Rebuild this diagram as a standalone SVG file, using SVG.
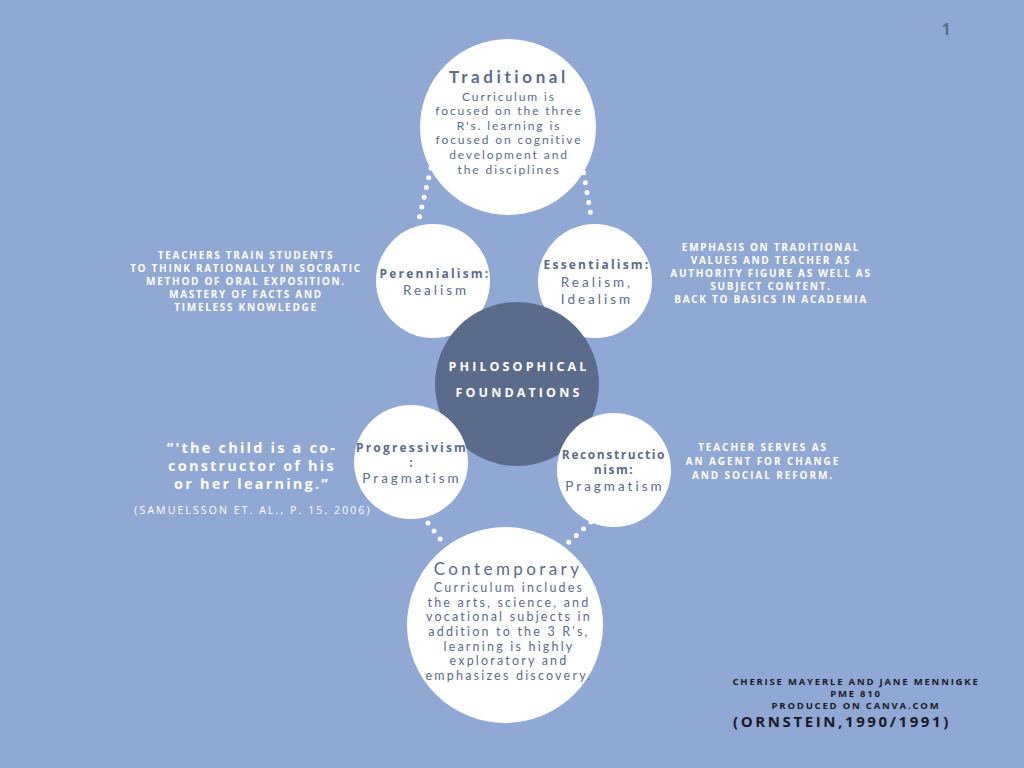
<svg xmlns="http://www.w3.org/2000/svg" width="1024" height="768" viewBox="0 0 1024 768">
<style>
.bg{fill:#8fa8d4}
.wc{fill:#ffffff}
.dk{fill:#5a6b8c}
.ttl{font-family:"Lato","Open Sans",sans-serif;font-weight:bold;fill:#5a6b8c;text-anchor:middle}
.ttn{font-family:"Lato","Open Sans",sans-serif;font-weight:normal;fill:#5a6b8c;text-anchor:middle}
.bd{font-family:"Lato","Open Sans",sans-serif;fill:#5a6b8c;text-anchor:middle;font-size:12px;letter-spacing:1.9px}
.sm{font-family:"Lato","Open Sans",sans-serif;fill:#5a6b8c;text-anchor:middle;font-size:13.5px;letter-spacing:3px}
.cb{font-family:"Lato","Open Sans",sans-serif;fill:#5a6b8c;text-anchor:middle;font-size:12.5px;letter-spacing:2.2px}
.lb{font-family:"Open Sans","Lato",sans-serif;font-weight:bold;fill:#5a6b8c;text-anchor:middle;font-size:12px;letter-spacing:2.2px}
.lb2{font-family:"Open Sans","Lato",sans-serif;font-weight:bold;fill:#5a6b8c;text-anchor:middle;font-size:12px;letter-spacing:1.6px}
.cap{font-family:"Open Sans","Lato",sans-serif;font-weight:bold;fill:#ffffff;text-anchor:middle;font-size:10px;letter-spacing:1.7px}
.cap2{font-family:"Open Sans","Lato",sans-serif;font-weight:bold;fill:#ffffff;text-anchor:middle;font-size:10px;letter-spacing:1.9px}
.dots{fill:none;stroke:#ffffff;stroke-width:5;stroke-linecap:round;stroke-dasharray:0 10}
.blk{font-family:"Open Sans","Lato",sans-serif;font-weight:bold;fill:#1a1a24;text-anchor:middle}
</style>
<rect class="bg" x="0" y="0" width="1024" height="768"/>
<g id="connectors">
<path class="dots" d="M431,168 L419,219"/>
<path class="dots" d="M582,163 L592,222"/>
<path class="dots" d="M428,523 L441,540"/>
<path class="dots" d="M591,522 L568,543"/>
</g>
<g id="traditional">
<circle class="wc" cx="508" cy="127" r="88"/>
<text class="ttl" x="509" y="83" font-size="17" letter-spacing="3.6">Traditional</text>
<text class="bd" x="509" y="101">Curriculum is</text>
<text class="bd" x="509" y="115">focused on the three</text>
<text class="bd" x="509" y="130">R's. learning is</text>
<text class="bd" x="509" y="144">focused on cognitive</text>
<text class="bd" x="509" y="159">development and</text>
<text class="bd" x="509" y="174">the disciplines</text>
</g>
<g id="perennialism">
<circle class="wc" cx="433" cy="281" r="57"/>
<text class="lb" x="435" y="278">Perennialism:</text>
<text class="sm" x="436" y="295">Realism</text>
</g>
<g id="essentialism">
<circle class="wc" cx="595" cy="281" r="57"/>
<text class="lb" x="597" y="269">Essentialism:</text>
<text class="sm" x="597" y="287">Realism,</text>
<text class="sm" x="597" y="304">Idealism</text>
</g>
<g id="foundations">
<circle class="dk" cx="517" cy="384" r="82"/>
<text x="519" y="371" font-family="Open Sans, Lato, sans-serif" font-weight="bold" font-size="12.5" letter-spacing="3.1" fill="#ffffff" text-anchor="middle">PHILOSOPHICAL</text>
<text x="519" y="397" font-family="Open Sans, Lato, sans-serif" font-weight="bold" font-size="12.5" letter-spacing="3.1" fill="#ffffff" text-anchor="middle">FOUNDATIONS</text>
</g>
<g id="progressivism">
<circle class="wc" cx="411" cy="462" r="57"/>
<text class="lb" x="412" y="452">Progressivism</text>
<text class="lb" x="412" y="467">:</text>
<text class="sm" x="412" y="483">Pragmatism</text>
</g>
<g id="reconstructionism">
<circle class="wc" cx="614" cy="470" r="57"/>
<text class="lb2" x="614" y="459">Reconstructio</text>
<text class="lb2" x="614" y="474">nism:</text>
<text class="sm" x="615" y="491">Pragmatism</text>
</g>
<g id="contemporary">
<circle class="wc" cx="505" cy="625" r="98"/>
<text class="ttn" x="508" y="575" font-size="17" letter-spacing="3.4">Contemporary</text>
<text class="cb" x="509" y="592">Curriculum includes</text>
<text class="cb" x="509" y="607">the arts, science, and</text>
<text class="cb" x="509" y="621">vocational subjects in</text>
<text class="cb" x="509" y="636">addition to the 3 R's,</text>
<text class="cb" x="509" y="651">learning is highly</text>
<text class="cb" x="509" y="665">exploratory and</text>
<text class="cb" x="509" y="680">emphasizes discovery.</text>
</g>
<g id="perennialism-note">
<text class="cap" x="246" y="259">TEACHERS TRAIN STUDENTS</text>
<text class="cap" x="246" y="272">TO THINK RATIONALLY IN SOCRATIC</text>
<text class="cap" x="246" y="285">METHOD OF ORAL EXPOSITION.</text>
<text class="cap" x="246" y="298">MASTERY OF FACTS AND</text>
<text class="cap" x="246" y="311">TIMELESS KNOWLEDGE</text>
</g>
<g id="essentialism-note">
<text class="cap" x="771" y="251">EMPHASIS ON TRADITIONAL</text>
<text class="cap" x="771" y="264">VALUES AND TEACHER AS</text>
<text class="cap" x="771" y="277">AUTHORITY FIGURE AS WELL AS</text>
<text class="cap" x="771" y="290">SUBJECT CONTENT.</text>
<text class="cap" x="771" y="303">BACK TO BASICS IN ACADEMIA</text>
</g>
<g id="progressivism-note">
<text x="252" y="453" font-family="Open Sans, Lato, sans-serif" font-weight="bold" font-size="14.5" letter-spacing="2.2" fill="#ffffff" text-anchor="middle">“'the child is a co-</text>
<text x="252" y="471" font-family="Open Sans, Lato, sans-serif" font-weight="bold" font-size="14.5" letter-spacing="2.2" fill="#ffffff" text-anchor="middle">constructor of his</text>
<text x="252" y="489" font-family="Open Sans, Lato, sans-serif" font-weight="bold" font-size="14.5" letter-spacing="2.2" fill="#ffffff" text-anchor="middle">or her learning.”</text>
<text x="253" y="514" font-family="Open Sans, Lato, sans-serif" font-size="10.5" letter-spacing="2.1" fill="#ffffff" text-anchor="middle">(SAMUELSSON ET. AL., P. 15, 2006)</text>
</g>
<g id="reconstructionism-note">
<text class="cap2" x="763" y="451">TEACHER SERVES AS</text>
<text class="cap2" x="763" y="465">AN AGENT FOR CHANGE</text>
<text class="cap2" x="763" y="479">AND SOCIAL REFORM.</text>
</g>
<g id="credits">
<text class="blk" x="856" y="685" font-size="9.5" letter-spacing="1.8">CHERISE MAYERLE AND JANE MENNIGKE</text>
<text class="blk" x="856" y="697" font-size="9.5" letter-spacing="1.8">PME 810</text>
<text class="blk" x="856" y="709" font-size="9.5" letter-spacing="1.8">PRODUCED ON CANVA.COM</text>
<text class="blk" x="842" y="727" font-size="15" letter-spacing="2.6">(ORNSTEIN,1990/1991)</text>
</g>
<text x="946" y="35" font-family="Open Sans, Lato, sans-serif" font-weight="bold" font-size="16" fill="#5a6b8c" text-anchor="middle">1</text>
</svg>
